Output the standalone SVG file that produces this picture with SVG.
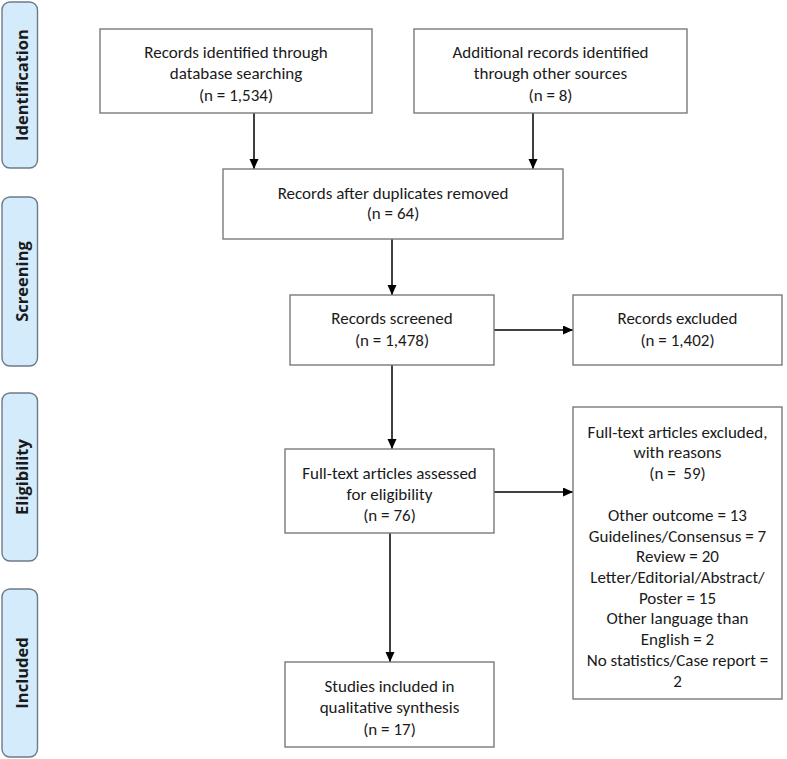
<svg xmlns="http://www.w3.org/2000/svg" width="787" height="759" viewBox="0 0 787 759">
<style>
.box{fill:#fff;stroke:#7a7a7a;stroke-width:1.4}
.phase{fill:#d4ebfb;stroke:#6c7b8a;stroke-width:1.4}
.t{font-family:Carlito,Lato,"Liberation Sans",sans-serif;font-size:17px;fill:#1a1a1a;text-anchor:middle}
.p{font-family:"Open Sans","Liberation Sans",sans-serif;font-size:16.5px;font-weight:bold;fill:#1a1a1a;text-anchor:middle}
.c{stroke:#000;stroke-width:1.5;fill:none;marker-end:url(#ah)}
</style>
<defs>
<marker id="ah" markerWidth="10" markerHeight="10" refX="10" refY="4.5" orient="auto" markerUnits="userSpaceOnUse">
<path d="M0,0 L10,4.5 L0,9 z" fill="#000"/>
</marker>
</defs>
<rect width="787" height="759" fill="#fff"/>
<g id="phase-identification"><rect class="phase" x="2" y="2" width="35.5" height="166" rx="8"/><text class="p" transform="translate(27.5,85) rotate(-90)">Identification</text></g>
<g id="phase-screening"><rect class="phase" x="2" y="197" width="35.5" height="169" rx="8"/><text class="p" transform="translate(27.5,281.5) rotate(-90)">Screening</text></g>
<g id="phase-eligibility"><rect class="phase" x="2" y="393" width="35.5" height="168" rx="8"/><text class="p" transform="translate(27.5,477) rotate(-90)">Eligibility</text></g>
<g id="phase-included"><rect class="phase" x="2" y="589" width="35.5" height="168" rx="8"/><text class="p" transform="translate(27.5,673) rotate(-90)">Included</text></g>

<g id="connectors">
<line class="c" x1="254" y1="113" x2="254" y2="169"/>
<line class="c" x1="533" y1="113" x2="533" y2="169"/>
<line class="c" x1="392" y1="239" x2="392" y2="295"/>
<line class="c" x1="494" y1="330" x2="573" y2="330"/>
<line class="c" x1="392" y1="365" x2="392" y2="449"/>
<line class="c" x1="494" y1="492" x2="573" y2="492"/>
<line class="c" x1="390" y1="533" x2="390" y2="662"/>
</g>

<g id="n1"><rect class="box" x="100" y="29" width="272" height="84"/>
<text class="t" x="236" y="58">Records identified through</text>
<text class="t" x="236" y="79">database searching</text>
<text class="t" x="236" y="101">(n = 1,534)</text></g>

<g id="n2"><rect class="box" x="414" y="29" width="273" height="84"/>
<text class="t" x="550.5" y="58">Additional records identified</text>
<text class="t" x="550.5" y="79">through other sources</text>
<text class="t" x="550.5" y="101">(n = 8)</text></g>

<g id="n3"><rect class="box" x="223" y="169" width="340" height="70"/>
<text class="t" x="393" y="199">Records after duplicates removed</text>
<text class="t" x="393" y="219">(n = 64)</text></g>

<g id="n4"><rect class="box" x="290" y="295" width="204" height="70"/>
<text class="t" x="392" y="324">Records screened</text>
<text class="t" x="392" y="346">(n = 1,478)</text></g>

<g id="n5"><rect class="box" x="573" y="295" width="209" height="70"/>
<text class="t" x="677.5" y="324">Records excluded</text>
<text class="t" x="677.5" y="346">(n = 1,402)</text></g>

<g id="n6"><rect class="box" x="285" y="449" width="209" height="84"/>
<text class="t" x="389.5" y="479">Full-text articles assessed</text>
<text class="t" x="389.5" y="500">for eligibility</text>
<text class="t" x="389.5" y="521">(n = 76)</text></g>

<g id="n7"><rect class="box" x="573" y="407" width="209" height="292"/>
<text class="t" x="677.5" y="438">Full-text articles excluded,</text>
<text class="t" x="677.5" y="458">with reasons</text>
<text class="t" x="677.5" y="479" xml:space="preserve">(n =  59)</text>
<text class="t" x="677.5" y="521">Other outcome = 13</text>
<text class="t" x="677.5" y="542">Guidelines/Consensus = 7</text>
<text class="t" x="677.5" y="562">Review = 20</text>
<text class="t" x="677.5" y="583">Letter/Editorial/Abstract/</text>
<text class="t" x="677.5" y="604">Poster = 15</text>
<text class="t" x="677.5" y="624">Other language than</text>
<text class="t" x="677.5" y="645">English = 2</text>
<text class="t" x="677.5" y="666">No statistics/Case report =</text>
<text class="t" x="677.5" y="687">2</text></g>

<g id="n8"><rect class="box" x="285" y="662" width="209" height="85"/>
<text class="t" x="389.5" y="692">Studies included in</text>
<text class="t" x="389.5" y="713">qualitative synthesis</text>
<text class="t" x="389.5" y="735">(n = 17)</text></g>
</svg>
